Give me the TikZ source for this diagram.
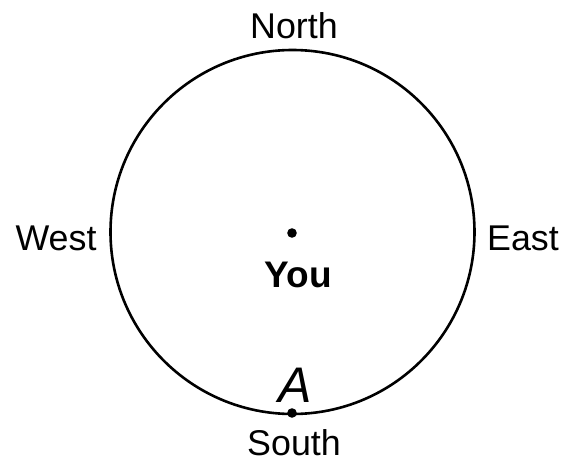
\documentclass[tikz,border=0pt]{standalone}
\usepackage{fontspec}
\setmainfont{Liberation Sans}
\tikzset{
  dirlabel/.style={font=\fontsize{17.9}{21}\selectfont, inner sep=0pt, anchor=base},
  dot/.style={circle, fill, inner sep=0pt, minimum size=4.8pt}
}
\begin{document}
\begin{tikzpicture}[x=0.5pt,y=-0.5pt]
\path[use as bounding box] (0,0) rectangle (569,461);
% compass circle
\coordinate (ctr) at (292.5,232);
\draw[line width=1.3pt] (ctr) circle (182);
% points
\node[dot] (you) at (292,233) {};
\node[dot] (pa) at (292,413) {};
% labels
\node[dirlabel] (north) at (294,38) {North};
\node[dirlabel] (south) at (294,455) {South};
\node[dirlabel] (west) at (56,250) {West};
\node[dirlabel] (east) at (523,250) {East};
\node[dirlabel, font=\fontsize{18.5}{21}\selectfont\bfseries] (youlbl) at (298.5,287) {You};
\node[dirlabel, font=\fontsize{25}{28}\selectfont\itshape] (alabel) at (295,402) {A};
\end{tikzpicture}
\end{document}
